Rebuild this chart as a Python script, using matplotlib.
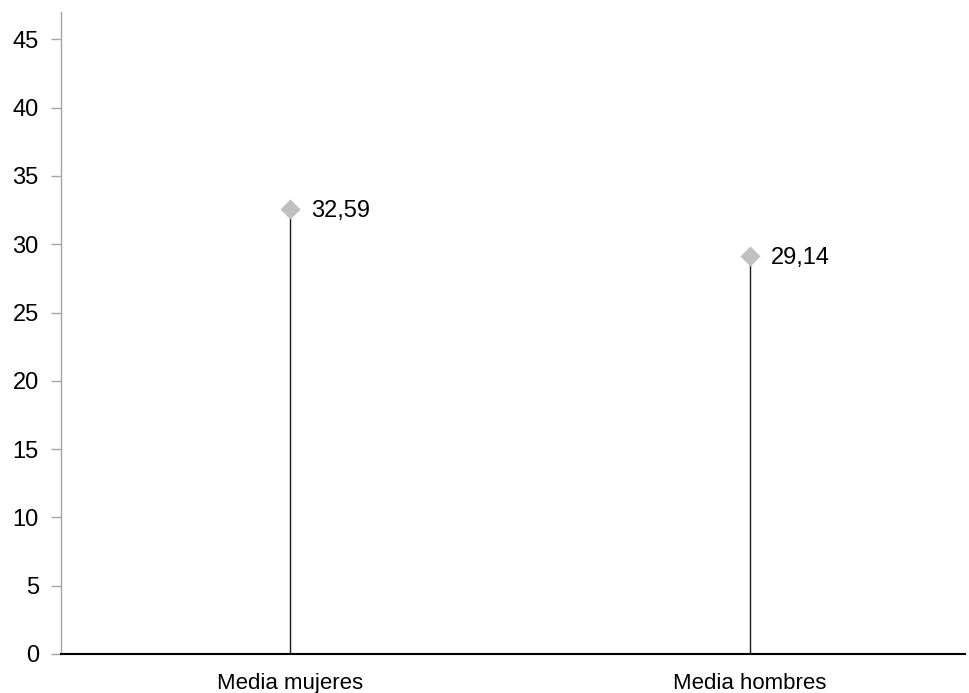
import matplotlib
matplotlib.use("Agg")
import matplotlib.pyplot as plt

categories = ["Media mujeres", "Media hombres"]
values = [32.59, 29.14]
value_labels = ["32,59", "29,14"]
yticks = [0, 5, 10, 15, 20, 25, 30, 35, 40, 45]

plt.rcParams['font.family'] = ['Liberation Sans', 'DejaVu Sans']

fig = plt.figure(figsize=(9.69, 6.93), dpi=100)
W, H = 969, 693
ax = fig.add_axes([61 / W, (H - 654) / H, (965 - 61) / W, (654 - 12) / H])

x = list(range(len(categories)))
ax.vlines(x, 0, values, color="#1a1a1a", linewidth=1.0, zorder=2)
ax.scatter(x, values, marker="D", s=105, color="#c0c0c0", zorder=3, linewidths=0)
for xi, v, lab in zip(x, values, value_labels):
    ax.annotate(lab, (xi, v), xytext=(15, -1.5), textcoords="offset points",
                va="center", ha="left", fontsize=17, color="#000000")

ax.set_xlim(-0.498, 1.467)
ax.set_ylim(0, 47)
ax.set_yticks(yticks)
ax.set_yticklabels([str(t) for t in yticks], fontsize=17)
ax.set_xticks(x)
ax.set_xticklabels(categories, fontsize=16)

for s in ["top", "right"]:
    ax.spines[s].set_visible(False)
ax.spines["left"].set_color("#a6a6a6")
ax.spines["left"].set_linewidth(1.0)
ax.spines["bottom"].set_color("#000000")
ax.spines["bottom"].set_linewidth(1.5)
ax.tick_params(axis="y", length=7, color="#a6a6a6", width=1, pad=9)
ax.tick_params(axis="x", length=0, pad=14)

fig.savefig("out.png", dpi=100)
